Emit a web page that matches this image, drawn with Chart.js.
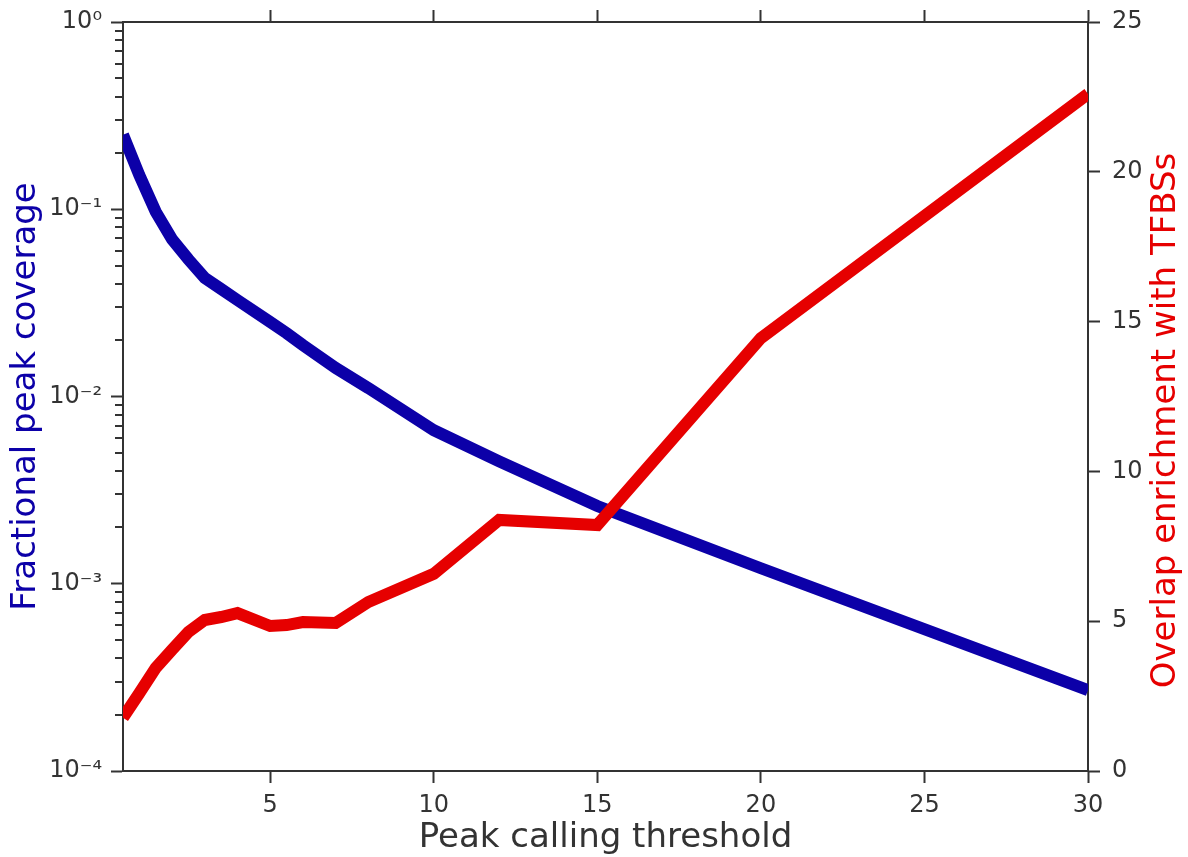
<!DOCTYPE html>
<html>
<head>
<meta charset="utf-8">
<script src="https://cdn.jsdelivr.net/npm/chart.js@4.4.1/dist/chart.umd.min.js"></script>
<style>
	body { margin: 0; background: #fff; }
	#wrap { width: 1188px; height: 857px; }
</style>
</head>
<body>
<div id="wrap"><canvas id="peak-chart" width="1188" height="857"></canvas></div>
<script>
const thresholds = [0.5, 1, 1.5, 2, 2.5, 3, 3.5, 4, 5, 5.5, 6, 7, 8, 10, 12, 15, 20, 30];
const coverage = [0.25, 0.152, 0.097, 0.069, 0.054, 0.043, 0.0375, 0.0327, 0.025, 0.0218, 0.0188, 0.0142, 0.0111, 0.0066, 0.0045, 0.0026, 0.00121, 0.00027];
const enrichment = [1.78, 2.6, 3.44, 4.05, 4.64, 5.04, 5.14, 5.27, 4.84, 4.87, 4.97, 4.94, 5.64, 6.58, 8.38, 8.21, 14.45, 22.6];

const xTicks = [5, 10, 15, 20, 25, 30];
const coverageDecades = [1e-4, 1e-3, 1e-2, 1e-1, 1];
const decadeLabels = ['10\u207B\u2074', '10\u207B\u00B3', '10\u207B\u00B2', '10\u207B\u00B9', '10\u2070'];
const enrichmentTicks = [0, 5, 10, 15, 20, 25];

(function () {
	const $chart = document.getElementById('peak-chart');
	const ink = '#333333';
	const blue = '#0c00a8';
	const red = '#e60000';
	const font = 'DejaVu Sans';

	const setTicks = (values) => (scale) => {
		scale.ticks = values.map((value) => ({ value }));
	};

	// minor ticks on the log axis + right title read bottom to top
	const extras = {
		id: 'extras',
		afterDraw(chart) {
			const scale = chart.scales.y;
			const ctx = chart.ctx;
			ctx.save();
			ctx.strokeStyle = ink;
			ctx.lineWidth = 2;
			coverageDecades.slice(0, -1).forEach((d) => {
				for (let m = 2; m < 10; m++) {
					const py = Math.round(scale.getPixelForValue(m * d));
					ctx.beginPath();
					ctx.moveTo(scale.right - 8, py);
					ctx.lineTo(scale.right, py);
					ctx.stroke();
				}
			});

			const area = chart.chartArea;
			ctx.translate(chart.width - 22, (area.top + area.bottom) / 2 + 24);
			ctx.rotate(-Math.PI / 2);
			ctx.fillStyle = red;
			ctx.font = '34px "' + font + '"';
			ctx.textAlign = 'center';
			ctx.textBaseline = 'middle';
			ctx.fillText('Overlap enrichment with TFBSs', 0, 0);
			ctx.restore();
		},
	};

	const noPad = (s) => {
		s.paddingTop = 0;
		s.paddingBottom = 0;
	};

	const data = {
		datasets: [
			{
				label: 'Overlap enrichment with TFBSs',
				data: thresholds.map((x, i) => ({ x, y: enrichment[i] })),
				borderColor: red,
				borderWidth: 12,
				pointRadius: 0,
				yAxisID: 'y2',
				order: 0,
			},
			{
				label: 'Fractional peak coverage',
				data: thresholds.map((x, i) => ({ x, y: coverage[i] })),
				borderColor: blue,
				borderWidth: 12,
				pointRadius: 0,
				yAxisID: 'y',
				order: 1,
			},
		],
	};

	const config = {
		type: 'line',
		data: data,
		options: {
			responsive: false,
			animation: false,
			layout: { padding: 0 },
			plugins: {
				legend: { display: false },
				tooltip: { enabled: false },
			},
			scales: {
				x: {
					type: 'linear',
					position: 'bottom',
					min: 0.5,
					max: 30,
					afterBuildTicks: setTicks(xTicks),
					afterFit: (s) => { s.height = 86; s.paddingLeft = 0; s.paddingRight = 0; },
					grid: { drawOnChartArea: false, tickLength: 12, tickWidth: 2, tickColor: ink },
					border: { color: ink, width: 2 },
					ticks: { color: ink, font: { family: font, size: 24 }, padding: 8, maxRotation: 0 },
					title: {
						display: true,
						text: 'Peak calling threshold',
						color: ink,
						font: { family: font, size: 34, lineHeight: 1.1 },
						padding: { top: 0, bottom: 0 },
					},
				},
				xTop: {
					type: 'linear',
					position: 'top',
					min: 0.5,
					max: 30,
					afterBuildTicks: setTicks(xTicks),
					afterFit: (s) => { s.height = 22; s.paddingLeft = 0; s.paddingRight = 0; },
					grid: { drawOnChartArea: false, tickLength: 12, tickWidth: 2, tickColor: ink },
					border: { color: ink, width: 2 },
					ticks: { display: false },
				},
				y: {
					type: 'logarithmic',
					position: 'left',
					min: 1e-4,
					max: 1,
					afterBuildTicks: setTicks(coverageDecades),
					afterFit: (s) => { s.width = 123; noPad(s); },
					grid: { drawOnChartArea: false, tickLength: 12, tickWidth: 2, tickColor: ink },
					border: { color: ink, width: 2 },
					ticks: {
						color: ink,
						font: { family: font, size: 24 },
						padding: 9,
						callback: (value, index) => decadeLabels[index],
					},
					title: {
						display: true,
						text: 'Fractional peak coverage',
						color: blue,
						font: { family: font, size: 34 },
						padding: { top: 6, bottom: 0 },
					},
				},
				y2: {
					type: 'linear',
					position: 'right',
					min: 0,
					max: 25,
					afterBuildTicks: setTicks(enrichmentTicks),
					afterFit: (s) => { s.width = 100; noPad(s); },
					grid: { drawOnChartArea: false, tickLength: 12, tickWidth: 2, tickColor: ink },
					border: { color: ink, width: 2 },
					ticks: { color: ink, font: { family: font, size: 24 }, padding: 12 },
				},
			},
		},
		plugins: [extras],
	};

	const myChart = new Chart($chart, config);
})();
</script>
</body>
</html>
